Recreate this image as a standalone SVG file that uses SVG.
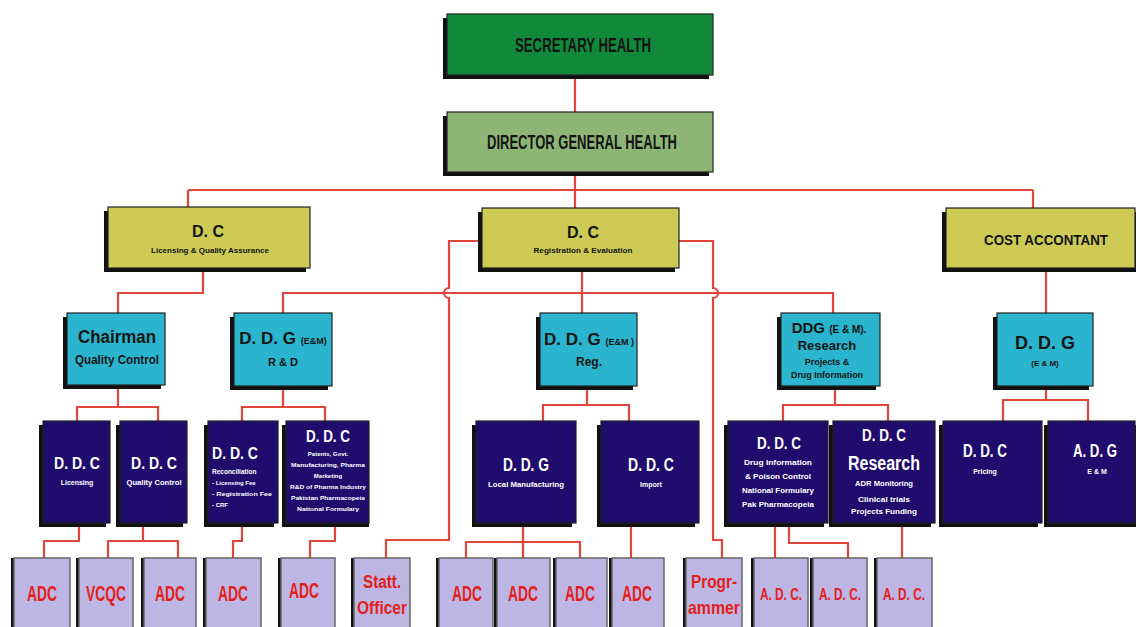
<svg xmlns="http://www.w3.org/2000/svg" width="1136" height="627" viewBox="0 0 1136 627">
<style>
.ln{fill:none;stroke:#e0463c;stroke-width:2.2}
.sh{fill:#111}
.box{stroke:#222;stroke-width:1.2}
.green{fill:#11893b}
.lgreen{fill:#8db676}
.yel{fill:#cdca55}
.cyan{fill:#2bb4cd}
.navy{fill:#200c6c}
.lav{fill:#bdb5e3;stroke:#666;stroke-width:1.5}
text{font-family:"Liberation Sans Narrow","Liberation Sans",Arial,sans-serif;font-weight:bold;text-anchor:middle}
.dk{fill:#141414}
.wh{fill:#ffffff}
.rd{fill:#e3201b}
</style>
<rect width="1136" height="627" fill="#ffffff"/>
<g id="connectors">
<path class="ln" d="M575 75V112M575 172V190M188 190H1033M188 190V207M575 190V208M1033 190V208"/>
<path class="ln" d="M203 268V293H118V313"/>
<path class="ln" d="M283 313V293H833V313M582 268V313"/>
<path class="ln" d="M482 241H449V288A5 5 0 0 0 449 298V540H386V558"/>
<path class="ln" d="M679 241H713V288A5 5 0 0 1 713 298V540H722V558"/>
<path class="ln" d="M1046 268V313"/>
<path class="ln" d="M118 386V407H77V421M118 407H158V421"/>
<path class="ln" d="M283 386V407H242V421M283 407H325V421"/>
<path class="ln" d="M587 386V405H543V421M587 405H629V421"/>
<path class="ln" d="M835 386V405H783V421M835 405H888V421"/>
<path class="ln" d="M1046 386V400H1003V421M1046 400H1088V421"/>
<path class="ln" d="M79 523V541H44V558"/>
<path class="ln" d="M143 523V541H108V558M143 541H178V558"/>
<path class="ln" d="M242 523V541H233V558"/>
<path class="ln" d="M335 523V541H310V558"/>
<path class="ln" d="M523 523V558M466 558V542H580V558"/>
<path class="ln" d="M631 523V558"/>
<path class="ln" d="M775 523V558M789 523V543H848V558"/>
<path class="ln" d="M902 523V558"/>
</g>
<g id="secretary">
<rect class="sh" x="443" y="18" width="266" height="61"/>
<rect class="box green" x="447" y="14" width="266" height="61"/>
<text class="dk" x="583" y="52" font-size="20" textLength="136" lengthAdjust="spacingAndGlyphs">SECRETARY HEALTH</text>
</g>
<g id="dg">
<rect class="sh" x="443" y="116" width="266" height="60"/>
<rect class="box lgreen" x="447" y="112" width="266" height="60"/>
<text class="dk" x="582" y="149" font-size="20" textLength="190" lengthAdjust="spacingAndGlyphs">DIRECTOR GENERAL HEALTH</text>
</g>
<g id="dc-lqa">
<rect class="sh" x="104" y="211" width="202" height="61"/>
<rect class="box yel" x="108" y="207" width="202" height="61"/>
<text class="dk" x="208" y="237" font-size="17" textLength="32" lengthAdjust="spacingAndGlyphs">D. C</text>
<text class="dk" x="210" y="253" font-size="7" font-weight="normal" textLength="118" lengthAdjust="spacingAndGlyphs">Licensing &amp; Quality Assurance</text>
</g>
<g id="dc-re">
<rect class="sh" x="478" y="212" width="197" height="60"/>
<rect class="box yel" x="482" y="208" width="197" height="60"/>
<text class="dk" x="583" y="238" font-size="17" textLength="32" lengthAdjust="spacingAndGlyphs">D. C</text>
<text class="dk" x="583" y="253" font-size="7" font-weight="normal" textLength="99" lengthAdjust="spacingAndGlyphs">Registration &amp; Evaluation</text>
</g>
<g id="cost">
<rect class="sh" x="942" y="212" width="194" height="60"/>
<rect class="box yel" x="946" y="208" width="189" height="60"/>
<text class="dk" x="1046" y="245" font-size="15" textLength="124" lengthAdjust="spacingAndGlyphs">COST ACCONTANT</text>
</g>
<g id="chairman">
<rect class="sh" x="63" y="317" width="98" height="72"/>
<rect class="box cyan" x="67" y="313" width="98" height="72"/>
<text class="dk" x="117" y="343" font-size="18" textLength="78" lengthAdjust="spacingAndGlyphs">Chairman</text>
<text class="dk" x="117" y="364" font-size="12" textLength="84" lengthAdjust="spacingAndGlyphs">Quality Control</text>
</g>
<g id="ddg-rd">
<rect class="sh" x="230" y="317" width="98" height="73"/>
<rect class="box cyan" x="234" y="313" width="98" height="73"/>
<text class="dk" x="283" y="344" font-size="17">D. D. G <tspan font-size="9">(E&amp;M)</tspan></text>
<text class="dk" x="283" y="366" font-size="11">R &amp; D</text>
</g>
<g id="ddg-reg">
<rect class="sh" x="536" y="317" width="97" height="73"/>
<rect class="box cyan" x="540" y="313" width="97" height="73"/>
<text class="dk" x="589" y="345" font-size="17">D. D. G <tspan font-size="9">(E&amp;M )</tspan></text>
<text class="dk" x="589" y="366" font-size="12">Reg.</text>
</g>
<g id="ddg-research">
<rect class="sh" x="777" y="317" width="99" height="73"/>
<rect class="box cyan" x="781" y="313" width="99" height="73"/>
<text class="dk" x="829" y="333" font-size="15">DDG <tspan font-size="10">(E &amp; M).</tspan></text>
<text class="dk" x="827" y="350" font-size="13">Research</text>
<text class="dk" x="827" y="365" font-size="9">Projects &amp;</text>
<text class="dk" x="827" y="378" font-size="9" textLength="72" lengthAdjust="spacingAndGlyphs">Drug Information</text>
</g>
<g id="ddg-em">
<rect class="sh" x="993" y="317" width="96" height="73"/>
<rect class="box cyan" x="997" y="313" width="96" height="73"/>
<text class="dk" x="1045" y="349" font-size="18">D. D. G</text>
<text class="dk" x="1045" y="366" font-size="8">(E &amp; M)</text>
</g>
<g id="ddc-lic">
<rect class="sh" x="39" y="425" width="67" height="102"/>
<rect class="box navy" x="43" y="421" width="67" height="102"/>
<text class="wh" x="77" y="469" font-size="17" textLength="46" lengthAdjust="spacingAndGlyphs">D. D. C</text>
<text class="wh" x="77" y="485" font-size="7" font-weight="normal">Licensing</text>
</g>
<g id="ddc-qc">
<rect class="sh" x="116" y="425" width="67" height="102"/>
<rect class="box navy" x="120" y="421" width="67" height="102"/>
<text class="wh" x="154" y="469" font-size="17" textLength="46" lengthAdjust="spacingAndGlyphs">D. D. C</text>
<text class="wh" x="154" y="485" font-size="7" font-weight="normal" textLength="55" lengthAdjust="spacingAndGlyphs">Quality Control</text>
</g>
<g id="ddc-recon">
<rect class="sh" x="204" y="425" width="70" height="102"/>
<rect class="box navy" x="208" y="421" width="70" height="102"/>
<text class="wh" x="212" y="459" font-size="17" style="text-anchor:start" textLength="46" lengthAdjust="spacingAndGlyphs">D. D. C</text>
<text class="wh" x="212" y="474" font-size="6.5" style="text-anchor:start">Reconciliation</text>
<text class="wh" x="212" y="485" font-size="6" style="text-anchor:start">- Licensing Fee</text>
<text class="wh" x="212" y="496" font-size="6" style="text-anchor:start" textLength="60" lengthAdjust="spacingAndGlyphs">- Registration Fee</text>
<text class="wh" x="212" y="507" font-size="6" style="text-anchor:start">- CRF</text>
</g>
<g id="ddc-patents">
<rect class="sh" x="282" y="425" width="87" height="102"/>
<rect class="box navy" x="286" y="421" width="83" height="102"/>
<text class="wh" x="328" y="442" font-size="16" textLength="44" lengthAdjust="spacingAndGlyphs">D. D. C</text>
<text class="wh" x="328" y="456" font-size="6">Patents, Govt.</text>
<text class="wh" x="328" y="467" font-size="6" textLength="74" lengthAdjust="spacingAndGlyphs">Manufacturing, Pharma</text>
<text class="wh" x="328" y="478" font-size="6">Marketing</text>
<text class="wh" x="328" y="489" font-size="6" textLength="76" lengthAdjust="spacingAndGlyphs">R&amp;D of Pharma Industry</text>
<text class="wh" x="328" y="500" font-size="6" textLength="74" lengthAdjust="spacingAndGlyphs">Pakistan Pharmacopeia</text>
<text class="wh" x="328" y="511" font-size="6" textLength="62" lengthAdjust="spacingAndGlyphs">National Formulary</text>
</g>
<g id="ddc-local">
<rect class="sh" x="472" y="425" width="100" height="102"/>
<rect class="box navy" x="476" y="421" width="100" height="102"/>
<text class="wh" x="526" y="471" font-size="18" textLength="46" lengthAdjust="spacingAndGlyphs">D. D. G</text>
<text class="wh" x="526" y="487" font-size="7" font-weight="normal" textLength="76" lengthAdjust="spacingAndGlyphs">Local Manufacturing</text>
</g>
<g id="ddc-import">
<rect class="sh" x="597" y="425" width="98" height="102"/>
<rect class="box navy" x="601" y="421" width="98" height="102"/>
<text class="wh" x="651" y="471" font-size="18" textLength="46" lengthAdjust="spacingAndGlyphs">D. D. C</text>
<text class="wh" x="651" y="487" font-size="7" font-weight="normal">Import</text>
</g>
<g id="ddc-druginfo">
<rect class="sh" x="724" y="425" width="100" height="102"/>
<rect class="box navy" x="728" y="421" width="100" height="102"/>
<text class="wh" x="779" y="449" font-size="17" textLength="44" lengthAdjust="spacingAndGlyphs">D. D. C</text>
<text class="wh" x="778" y="465" font-size="7" textLength="68" lengthAdjust="spacingAndGlyphs">Drug Information</text>
<text class="wh" x="778" y="479" font-size="7" textLength="66" lengthAdjust="spacingAndGlyphs">&amp; Poison Control</text>
<text class="wh" x="778" y="493" font-size="7.5" textLength="72" lengthAdjust="spacingAndGlyphs">National Formulary</text>
<text class="wh" x="778" y="507" font-size="7.5" textLength="72" lengthAdjust="spacingAndGlyphs">Pak Pharmacopeia</text>
</g>
<g id="ddc-research">
<rect class="sh" x="829" y="425" width="102" height="102"/>
<rect class="box navy" x="833" y="421" width="102" height="102"/>
<text class="wh" x="884" y="441" font-size="16" textLength="44" lengthAdjust="spacingAndGlyphs">D. D. C</text>
<text class="wh" x="884" y="470" font-size="20" textLength="72" lengthAdjust="spacingAndGlyphs">Research</text>
<text class="wh" x="884" y="486" font-size="7" textLength="58" lengthAdjust="spacingAndGlyphs">ADR Monitoring</text>
<text class="wh" x="884" y="502" font-size="7" textLength="52" lengthAdjust="spacingAndGlyphs">Clinical trials</text>
<text class="wh" x="884" y="514" font-size="7.5" textLength="66" lengthAdjust="spacingAndGlyphs">Projects Funding</text>
</g>
<g id="ddc-pricing">
<rect class="sh" x="939" y="425" width="99" height="102"/>
<rect class="box navy" x="943" y="421" width="99" height="102"/>
<text class="wh" x="985" y="457" font-size="18" textLength="44" lengthAdjust="spacingAndGlyphs">D. D. C</text>
<text class="wh" x="985" y="474" font-size="7">Pricing</text>
</g>
<g id="adg-em">
<rect class="sh" x="1044" y="425" width="92" height="102"/>
<rect class="box navy" x="1048" y="421" width="87" height="102"/>
<text class="wh" x="1095" y="457" font-size="18" textLength="44" lengthAdjust="spacingAndGlyphs">A. D. G</text>
<text class="wh" x="1097" y="474" font-size="7">E &amp; M</text>
</g>
<g id="adc1"><rect class="sh" x="11" y="558" width="5" height="72"/><rect class="lav" x="14" y="558" width="56" height="72"/><text class="rd" x="42" y="601" font-size="22" textLength="30" lengthAdjust="spacingAndGlyphs">ADC</text></g>
<g id="vcqc"><rect class="sh" x="76" y="558" width="5" height="72"/><rect class="lav" x="79" y="558" width="54" height="72"/><text class="rd" x="106" y="601" font-size="22" textLength="40" lengthAdjust="spacingAndGlyphs">VCQC</text></g>
<g id="adc2"><rect class="sh" x="141" y="558" width="5" height="72"/><rect class="lav" x="144" y="558" width="52" height="72"/><text class="rd" x="170" y="601" font-size="22" textLength="30" lengthAdjust="spacingAndGlyphs">ADC</text></g>
<g id="adc3"><rect class="sh" x="203" y="558" width="5" height="72"/><rect class="lav" x="206" y="558" width="55" height="72"/><text class="rd" x="233" y="601" font-size="22" textLength="30" lengthAdjust="spacingAndGlyphs">ADC</text></g>
<g id="adc4"><rect class="sh" x="278" y="558" width="5" height="72"/><rect class="lav" x="281" y="558" width="54" height="72"/><text class="rd" x="304" y="598" font-size="22" textLength="30" lengthAdjust="spacingAndGlyphs">ADC</text></g>
<g id="statt"><rect class="sh" x="351" y="558" width="5" height="72"/><rect class="lav" x="354" y="558" width="56" height="72"/><text class="rd" x="382" y="588" font-size="19" textLength="38" lengthAdjust="spacingAndGlyphs">Statt.</text><text class="rd" x="382" y="614" font-size="19" textLength="50" lengthAdjust="spacingAndGlyphs">Officer</text></g>
<g id="adc5"><rect class="sh" x="436" y="558" width="5" height="72"/><rect class="lav" x="439" y="558" width="54" height="72"/><text class="rd" x="467" y="601" font-size="22" textLength="30" lengthAdjust="spacingAndGlyphs">ADC</text></g>
<g id="adc6"><rect class="sh" x="494" y="558" width="5" height="72"/><rect class="lav" x="497" y="558" width="53" height="72"/><text class="rd" x="523" y="601" font-size="22" textLength="30" lengthAdjust="spacingAndGlyphs">ADC</text></g>
<g id="adc7"><rect class="sh" x="553" y="558" width="5" height="72"/><rect class="lav" x="556" y="558" width="51" height="72"/><text class="rd" x="580" y="601" font-size="22" textLength="30" lengthAdjust="spacingAndGlyphs">ADC</text></g>
<g id="adc8"><rect class="sh" x="609" y="558" width="5" height="72"/><rect class="lav" x="612" y="558" width="52" height="72"/><text class="rd" x="637" y="601" font-size="22" textLength="30" lengthAdjust="spacingAndGlyphs">ADC</text></g>
<g id="programmer"><rect class="sh" x="683" y="558" width="5" height="72"/><rect class="lav" x="686" y="558" width="56" height="72"/><text class="rd" x="714" y="588" font-size="19" textLength="46" lengthAdjust="spacingAndGlyphs">Progr-</text><text class="rd" x="714" y="614" font-size="19" textLength="52" lengthAdjust="spacingAndGlyphs">ammer</text></g>
<g id="adc9"><rect class="sh" x="751" y="558" width="5" height="72"/><rect class="lav" x="754" y="558" width="54" height="72"/><text class="rd" x="781" y="600" font-size="16" textLength="42" lengthAdjust="spacingAndGlyphs">A. D. C.</text></g>
<g id="adc10"><rect class="sh" x="810" y="558" width="5" height="72"/><rect class="lav" x="813" y="558" width="54" height="72"/><text class="rd" x="840" y="600" font-size="16" textLength="42" lengthAdjust="spacingAndGlyphs">A. D. C.</text></g>
<g id="adc11"><rect class="sh" x="874" y="558" width="5" height="72"/><rect class="lav" x="877" y="558" width="55" height="72"/><text class="rd" x="904" y="600" font-size="16" textLength="42" lengthAdjust="spacingAndGlyphs">A. D. C.</text></g>
</svg>
